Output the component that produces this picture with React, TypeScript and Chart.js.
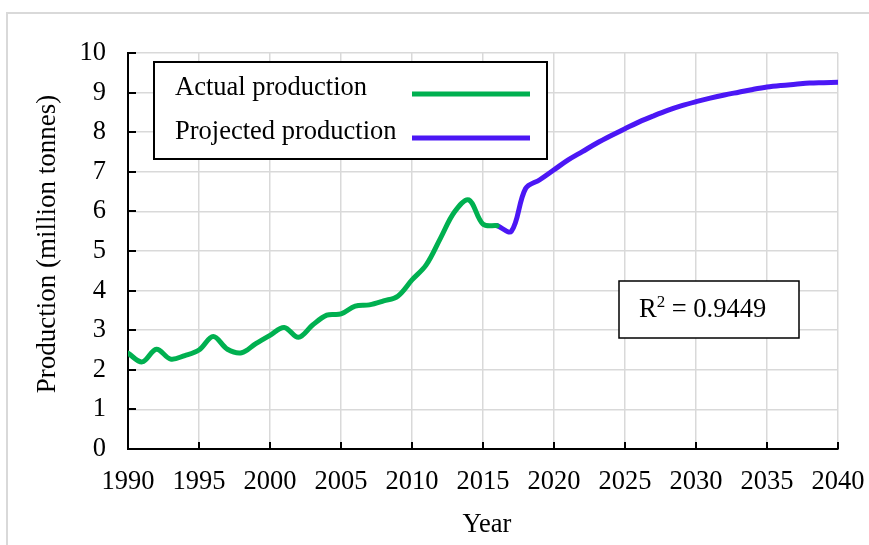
import { useEffect, useRef } from "react";
import { Chart, registerables } from "chart.js";

Chart.register(...registerables);

// Annual production, million tonnes
const actualYears = [
  1990, 1991, 1992, 1993, 1994, 1995, 1996, 1997, 1998, 1999, 2000, 2001, 2002, 2003,
  2004, 2005, 2006, 2007, 2008, 2009, 2010, 2011, 2012, 2013, 2014, 2015, 2016,
];
const actualValues = [
  2.42, 2.2, 2.52, 2.27, 2.36, 2.5, 2.84, 2.52, 2.43, 2.66, 2.87, 3.07, 2.82, 3.13,
  3.38, 3.41, 3.61, 3.64, 3.74, 3.86, 4.27, 4.65, 5.32, 5.99, 6.29, 5.68, 5.64,
];

const projectedYears = [
  2016, 2017, 2018, 2019, 2020, 2021, 2022, 2023, 2024, 2025, 2026, 2027, 2028, 2029,
  2030, 2031, 2032, 2033, 2034, 2035, 2036, 2037, 2038, 2039, 2040,
];
const projectedValues = [
  5.64, 5.5, 6.58, 6.8, 7.05, 7.3, 7.51, 7.72, 7.91, 8.09, 8.26, 8.41, 8.55, 8.67,
  8.77, 8.86, 8.94, 9.01, 9.08, 9.14, 9.18, 9.21, 9.24, 9.25, 9.26,
];

const seriesNames = ["Actual production", "Projected production"];
const seriesColors = ["#00B050", "#4B17F5"];
const rSquaredText = "0.9449";

const xTitle = "Year";
const yTitle = "Production (million tonnes)";

const FONT = "'Liberation Serif', 'Times New Roman', serif";
const GRID = "#D9D9D9";
const TEXT_SIZE = 26.5;

const toPoints = (xs: number[], ys: number[]) => xs.map((x, i) => ({ x, y: ys[i] }));

// Page frame, inside tick marks, axis titles, legend box and the R² note
const decorations = {
  id: "decorations",
  beforeDraw(chart: any) {
    const { ctx, width, height } = chart;
    ctx.save();
    ctx.fillStyle = "#ffffff";
    ctx.fillRect(0, 0, width, height);
    ctx.strokeStyle = GRID;
    ctx.lineWidth = 2;
    ctx.strokeRect(7, 13, width + 20, height + 20);
    ctx.restore();
  },
  beforeDatasetsDraw(chart: any) {
    const { ctx, chartArea } = chart;
    const xs = chart.scales.x;
    const ys = chart.scales.y;
    ctx.save();
    ctx.strokeStyle = "#000";
    ctx.lineWidth = 2;
    ctx.beginPath();
    xs.ticks.forEach((t: any) => {
      const px = Math.round(xs.getPixelForValue(t.value));
      ctx.moveTo(px, chartArea.bottom);
      ctx.lineTo(px, chartArea.bottom - 7);
    });
    ys.ticks.forEach((t: any) => {
      const py = Math.round(ys.getPixelForValue(t.value));
      ctx.moveTo(chartArea.left, py);
      ctx.lineTo(chartArea.left + 8, py);
    });
    ctx.stroke();
    ctx.restore();
  },
  afterDraw(chart: any) {
    const { ctx, chartArea } = chart;
    ctx.save();
    ctx.fillStyle = "#000";
    ctx.textBaseline = "alphabetic";

    // axis titles
    ctx.textAlign = "center";
    ctx.font = `${TEXT_SIZE}px ${FONT}`;
    ctx.fillText(xTitle, (chartArea.left + chartArea.right) / 2 + 4, chartArea.bottom + 82.5);
    ctx.save();
    ctx.translate(54.5, (chartArea.top + chartArea.bottom) / 2 - 7);
    ctx.rotate(-Math.PI / 2);
    ctx.font = `27px ${FONT}`;
    ctx.fillText(yTitle, 0, 0);
    ctx.restore();

    ctx.font = `${TEXT_SIZE}px ${FONT}`;
    ctx.textAlign = "left";

    // legend
    const lx = chartArea.left + 26;
    const ly = chartArea.top + 9;
    ctx.fillStyle = "#fff";
    ctx.fillRect(lx, ly, 393, 97);
    ctx.strokeStyle = "#000";
    ctx.lineWidth = 2;
    ctx.strokeRect(lx, ly, 393, 97);
    const rows = [42, 86];
    seriesNames.forEach((name, i) => {
      ctx.fillStyle = "#000";
      ctx.fillText(name, lx + 21, ly + rows[i] - 9);
      ctx.strokeStyle = seriesColors[i];
      ctx.lineWidth = 5;
      ctx.beginPath();
      ctx.moveTo(lx + 258, ly + rows[i] - 10);
      ctx.lineTo(lx + 376, ly + rows[i] - 10);
      ctx.stroke();
    });

    // R² note
    const bx = chartArea.left + 491;
    const by = chartArea.top + 228;
    ctx.fillStyle = "#fff";
    ctx.fillRect(bx, by, 180, 57);
    ctx.strokeStyle = "#000";
    ctx.lineWidth = 1.5;
    ctx.strokeRect(bx, by, 180, 57);
    ctx.fillStyle = "#000";
    let tx = bx + 20;
    const base = by + 36;
    ctx.fillText("R", tx, base);
    tx += ctx.measureText("R").width;
    ctx.font = `17px ${FONT}`;
    ctx.fillText("2", tx, base - 10);
    tx += ctx.measureText("2").width;
    ctx.font = `${TEXT_SIZE}px ${FONT}`;
    ctx.fillText(` = ${rSquaredText}`, tx, base);
    ctx.restore();
  },
};

export default function App() {
  const canvasRef = useRef<HTMLCanvasElement | null>(null);

  useEffect(() => {
    const canvas = canvasRef.current;
    if (!canvas) return;
    const hideFirst = (first: number) => (c: any) =>
      c.tick && c.tick.value === first ? "rgba(0,0,0,0)" : GRID;

    const chart = new Chart(canvas, {
      type: "line",
      data: {
        datasets: [
          {
            label: seriesNames[0],
            data: toPoints(actualYears, actualValues),
            borderColor: seriesColors[0],
            borderWidth: 5,
            pointRadius: 0,
            tension: 0.35,
            borderCapStyle: "round",
            borderJoinStyle: "round",
          },
          {
            label: seriesNames[1],
            data: toPoints(projectedYears, projectedValues),
            borderColor: seriesColors[1],
            borderWidth: 5,
            pointRadius: 0,
            tension: 0.35,
            borderCapStyle: "round",
            borderJoinStyle: "round",
          },
        ],
      },
      options: {
        responsive: false,
        animation: false,
        devicePixelRatio: 1,
        layout: { padding: { top: 53, right: 31, left: 0, bottom: 0 } },
        plugins: {
          legend: { display: false },
          tooltip: { enabled: false },
        },
        scales: {
          x: {
            type: "linear",
            min: 1990,
            max: 2040,
            afterFit: (s: any) => {
              s.height = 96;
              s.paddingLeft = 0;
              s.paddingRight = 0;
            },
            ticks: {
              stepSize: 5,
              padding: 17,
              color: "#000",
              font: { family: FONT, size: TEXT_SIZE },
              callback: (v: any) => String(v),
            },
            grid: { color: hideFirst(1990), lineWidth: 1.5, drawTicks: false },
            border: { display: true, color: "#000", width: 2 },
            title: { display: false },
          },
          y: {
            min: 0,
            max: 10,
            afterFit: (s: any) => {
              s.width = 128;
            },
            ticks: {
              stepSize: 1,
              padding: 22,
              color: "#000",
              font: { family: FONT, size: TEXT_SIZE },
            },
            grid: { color: hideFirst(0), lineWidth: 1.5, drawTicks: false },
            border: { display: true, color: "#000", width: 2 },
            title: { display: false },
          },
        },
      },
      plugins: [decorations],
    });
    return () => chart.destroy();
  }, []);

  return (
    <div style={{ position: "fixed", left: 0, top: 0, width: 869, height: 545, background: "#fff" }}>
      <canvas ref={canvasRef} width={869} height={545} style={{ display: "block" }} />
    </div>
  );
}
